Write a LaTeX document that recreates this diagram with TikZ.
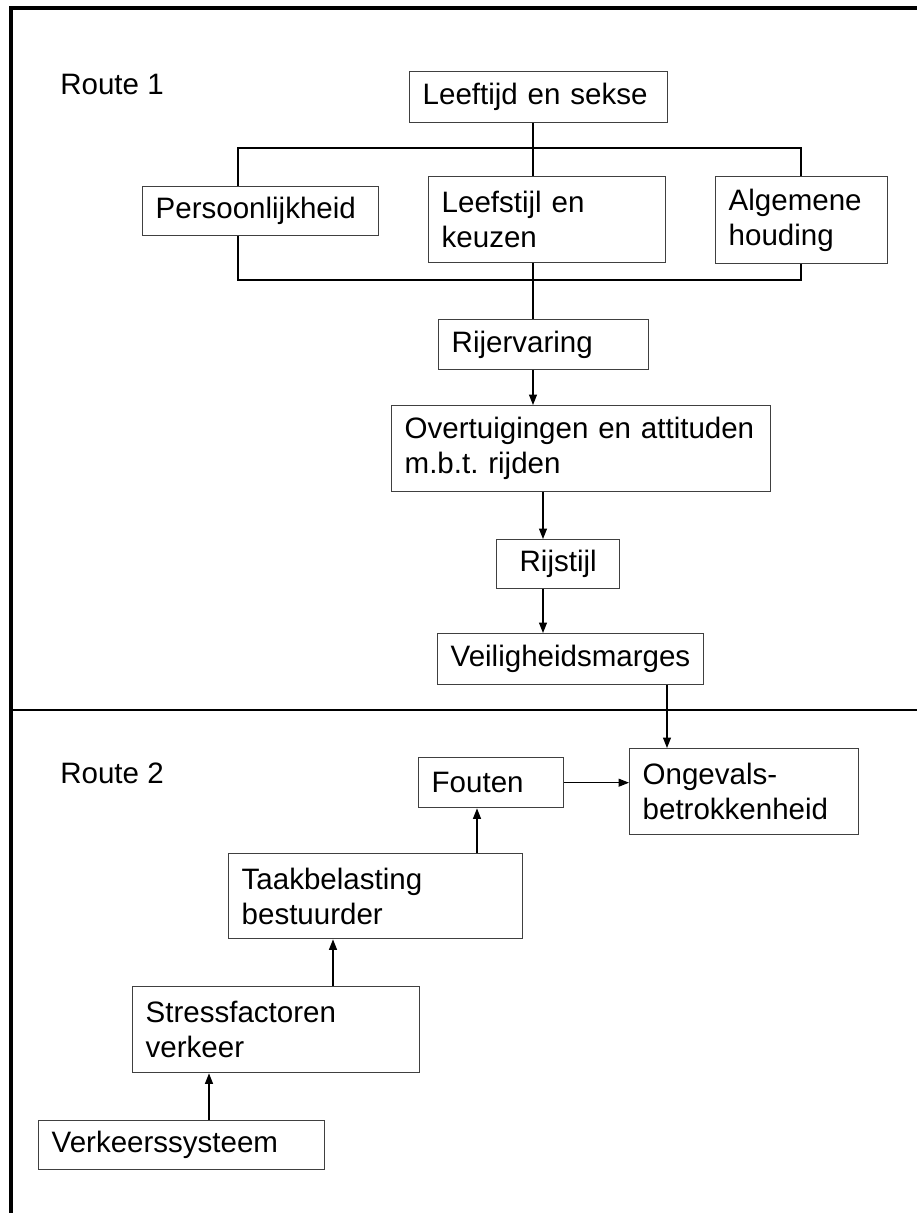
\documentclass[tikz,border=0pt]{standalone}
\usepackage{fontspec}
\setmainfont{Liberation Sans}
\usetikzlibrary{arrows.meta}
\frenchspacing

\begin{document}
\begin{tikzpicture}[x=0.02cm, y=-0.02cm,
    blok/.style={draw=black!75, line width=0.8pt, inner xsep=0.26cm, inner ysep=0pt,
                 align=left, anchor=north west},
    label/.style={inner sep=0pt, anchor=base west},
    lijn/.style={line width=0.7pt},
    pijl/.style={line width=0.7pt, -{Triangle[length=0.21cm,width=0.16cm]}},
    rand/.style={line width=2.2pt, line join=miter}]
                    \useasboundingbox (0,0) rectangle (917,1213);
                    {\fontsize{16.8}{19.9}\selectfont

                    % Drawing frame and divider
                    \draw [rand] (11,1213) -- (11,8) -- (917,8);%
                    \draw [lijn] (11,710) -- (917,710);%

                    % Marking route labels
                    \node (route1) [label] at (60,95) {Route 1};%
                    \node (route2) [label] at (60,783) {Route 2};%

                    % Route 1 boxes
                    \node (leeftijd) [blok, text width=4.64cm, minimum height=1.02cm] at (409,71) {Leeftijd en sekse};%
                    \node (persoon) [blok, text width=4.20cm, minimum height=0.98cm] at (142,186) {Persoonlijkheid};%
                    \node (leefstijl) [blok, text width=4.22cm, minimum height=1.72cm] at (428,176) {Leefstijl en\\keuzen};%
                    \node (algemeen) [blok, text width=2.92cm, minimum height=1.74cm] at (715,176) {Algemene\\houding};%
                    \node (rijerv) [blok, text width=3.68cm, minimum height=1.00cm] at (438,319) {Rijervaring};%
                    \node (overtuig) [blok, text width=7.06cm, minimum height=1.72cm] at (391,405) {Overtuigingen en attituden\\m.b.t. rijden};%
                    \node (rijstijl) [blok, align=center, text width=1.94cm, minimum height=0.98cm] at (496,539) {Rijstijl};%
                    \node (veilig) [blok, text width=4.80cm, minimum height=1.02cm] at (437,633) {Veiligheidsmarges};%

                    % Route 2 boxes
                    \node (ongeval) [blok, text width=4.06cm, minimum height=1.72cm] at (629,748) {Ongevals-\\betrokkenheid};%
                    \node (fouten) [blok, text width=2.38cm, minimum height=1.00cm] at (418,757) {Fouten};%
                    \node (taak) [blok, text width=5.36cm, minimum height=1.70cm] at (228,853) {Taakbelasting\\bestuurder};%
                    \node (stress) [blok, text width=5.22cm, minimum height=1.72cm] at (132,986) {Stressfactoren\\verkeer};%
                    \node (verkeer) [blok, text width=5.20cm, minimum height=0.98cm] at (38,1120) {Verkeerssysteem};%

                    % Columns for the connectors
                    \coordinate (stam) at (533,0);%
                    \coordinate (stam2) at (543,0);%
                    \coordinate (kolomO) at (667,0);%
                    \coordinate (kolomF) at (477,0);%
                    \coordinate (kolomT) at (333,0);%
                    \coordinate (kolomS) at (209,0);%
                    \coordinate (bovenL) at (238,148);%
                    \coordinate (bovenR) at (801,148);%
                    \coordinate (onderL) at (238,280);%
                    \coordinate (onderR) at (801,280);%

                    % Drawing bracket round the middle row
                    \draw [lijn] (leeftijd.south -| stam) -- (leefstijl.north -| stam);%
                    \draw [lijn] (persoon.north -| bovenL) -- (bovenL) -- (bovenR) -- (algemeen.north -| bovenR);%
                    \draw [lijn] (persoon.south -| onderL) -- (onderL) -- (onderR) -- (algemeen.south -| onderR);%
                    \draw [lijn] (leefstijl.south -| stam) -- (rijerv.north -| stam);%

                    % Drawing arrows route 1
                    \draw [pijl] (rijerv.south -| stam) -- (overtuig.north -| stam);%
                    \draw [pijl] (overtuig.south -| stam2) -- (rijstijl.north -| stam2);%
                    \draw [pijl] (rijstijl.south -| stam2) -- (veilig.north -| stam2);%
                    \draw [pijl] (veilig.south -| kolomO) -- (ongeval.north -| kolomO);%

                    % Drawing arrows route 2
                    \draw [pijl] (fouten.east) -- (ongeval.west |- fouten.east);%
                    \draw [pijl] (taak.north -| kolomF) -- (fouten.south -| kolomF);%
                    \draw [pijl] (stress.north -| kolomT) -- (taak.south -| kolomT);%
                    \draw [pijl] (verkeer.north -| kolomS) -- (stress.south -| kolomS);%
                    }
\end{tikzpicture}
\end{document}
